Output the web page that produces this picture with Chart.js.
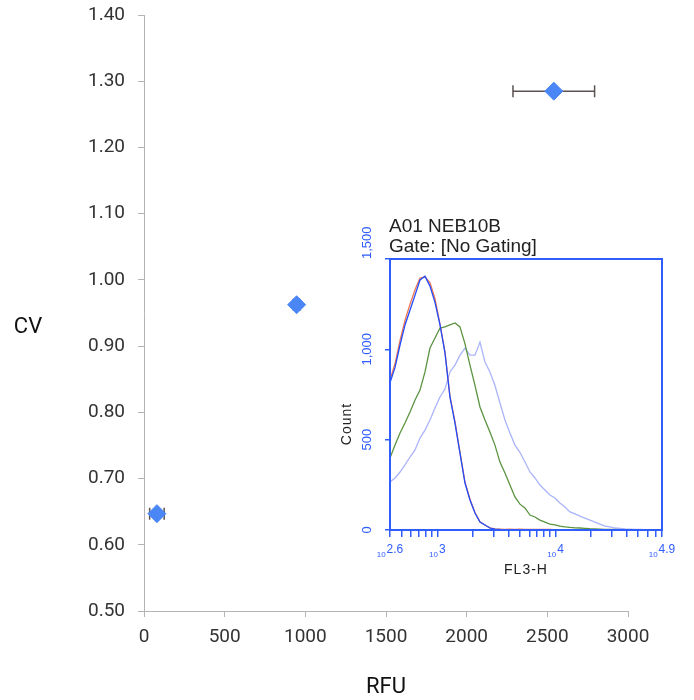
<!DOCTYPE html>
<html><head><meta charset="utf-8">
<script src="https://cdn.jsdelivr.net/npm/chart.js@4.4.1/dist/chart.umd.min.js"></script>
<style>
html,body{margin:0;padding:0;background:#fff;}
#wrap{position:relative;width:694px;height:700px;}
#main{position:absolute;left:0;top:0;}
#inset{position:absolute;left:335px;top:212px;}
</style></head><body>
<div id="wrap"><canvas id="main" width="694" height="700"></canvas><canvas id="inset" width="355" height="368"></canvas></div>
<script>
// ---- Main scatter data ----
const rfu = [80, 946, 2540];
const cv = [0.647, 0.9625, 1.285];
const rfuErr = [45, 20, 253];
const xTickValues = [0, 500, 1000, 1500, 2000, 2500, 3000];
const yTickValues = [0.5, 0.6, 0.7, 0.8, 0.9, 1.0, 1.1, 1.2, 1.3, 1.4];
const xTitle = 'RFU';
const yTitle = 'CV';

// ---- Inset histogram data (FL3-H channel vs count) ----
const fl3Channels = [398,439,484,533,588,648,714,787,867,956,1054,1161,1280,1411,1555,1714,1889,2082,2295,2529,2787,3072,3386,3733,4114,4535,4998,5510,6073,6693,7378,8132,8963,9879,10889,12002,13229,14581,16072,17714,19525,21521,23721,26146,28818,31764,35011,38590,42535,46883,51675,56958,62780,69198,76271];
const countBlue = [815,900,1024,1135,1218,1300,1384,1405,1350,1260,1135,980,735,592,426,260,166,94,44,28,11,5,3,2,2,1,1,1,1,0,0,0,0,0,0,0,0,0,0,0,0,0,0,0,0,0,0,0,0,0,0,0,0,0,0];
const countRed = [830,920,1050,1160,1250,1330,1395,1400,1370,1280,1140,985,740,600,430,265,170,97,46,28,12,6,5,4,5,4,5,4,4,3,4,3,3,2,1,0,0,0,0,0,0,0,0,0,0,0,0,0,0,0,0,0,0,0,0];
const countGreen = [398,470,537,592,653,720,775,875,1007,1063,1118,1124,1135,1146,1124,1030,913,800,681,609,542,470,376,315,249,183,143,122,83,72,55,44,33,28,22,17,14,12,11,9,7,6,5,4,3,3,2,1,1,0,0,0,0,0,0];
const countLavender = [266,288,321,360,404,443,509,553,609,675,736,780,875,913,968,1007,968,968,1040,930,875,800,703,609,537,470,430,376,321,288,249,221,194,177,149,127,100,89,77,66,55,44,33,22,17,11,9,6,5,4,3,2,1,1,0];
const insetXTickValues = [398.107,500,600,700,800,900,1000,2000,3000,4000,5000,6000,7000,8000,9000,10000,20000,30000,40000,50000,60000,70000,79432.8];
const insetXLabelValues = [398.107, 1000, 10000, 79432.8];
const insetXLabelExps = ['2.6', '3', '4', '4.9'];
const insetYTickValues = [0, 500, 1000, 1500];
const insetYLabels = ['0', '500', '1,000', '1,500'];
const insetTitle1 = 'A01 NEB10B';
const insetTitle2 = 'Gate: [No Gating]';
const insetXTitle = 'FL3-H';
const insetYTitle = 'Count';

const AXIS = '#b4b4b4';
const BLUEAX = '#2f5dff';

const errorBars = {
  id: 'errorBars',
  beforeDatasetsDraw(chart) {
    const {ctx, scales: {x, y}} = chart;
    ctx.save();
    ctx.strokeStyle = '#5b5252';
    ctx.lineWidth = 1.5;
    rfu.forEach((v, i) => {
      const py = y.getPixelForValue(cv[i]);
      const x0 = x.getPixelForValue(v - rfuErr[i]);
      const x1 = x.getPixelForValue(v + rfuErr[i]);
      ctx.beginPath();
      ctx.moveTo(x0, py); ctx.lineTo(x1, py);
      ctx.moveTo(x0, py - 6); ctx.lineTo(x0, py + 6);
      ctx.moveTo(x1, py - 6); ctx.lineTo(x1, py + 6);
      ctx.stroke();
    });
    ctx.restore();
  }
};

const mainTitles = {
  id: 'mainTitles',
  afterDraw(chart) {
    const {ctx, chartArea: ca} = chart;
    ctx.save();
    ctx.fillStyle = '#111';
    ctx.font = '22px Roboto';
    ctx.textAlign = 'center';
    ctx.textBaseline = 'middle';
    ctx.fillText(yTitle, 28, (ca.top + ca.bottom) / 2 + 14);
    ctx.fillText(xTitle, (ca.left + ca.right) / 2, 687);
    ctx.restore();
  }
};

new Chart(document.getElementById('main'), {
  type: 'scatter',
  data: {datasets: [{
    data: rfu.map((x, i) => ({x, y: cv[i]})),
    backgroundColor: '#4a86f5', borderColor: '#4a86f5', borderWidth: 1,
    pointStyle: 'rectRot', pointRadius: 9, pointHoverRadius: 9
  }]},
  options: {
    responsive: false, animation: false, events: [],
    layout: {padding: {left: 0, right: 66, top: 15, bottom: 0}},
    plugins: {legend: {display: false}, tooltip: {enabled: false}},
    scales: {
      x: {
        type: 'linear', min: 0, max: 3000,
        afterBuildTicks: s => { s.ticks = xTickValues.map(v => ({value: v})); },
        afterFit: s => { s.height = 89; },
        grid: {display: true, drawOnChartArea: false, drawTicks: true, tickLength: 6, color: AXIS, lineWidth: 1},
        border: {display: true, color: AXIS, width: 1},
        ticks: {color: '#333', font: {family: 'Roboto', size: 19}, padding: 9, maxRotation: 0, autoSkip: false, callback: v => String(v)}
      },
      y: {
        type: 'linear', min: 0.5, max: 1.4,
        afterBuildTicks: s => { s.ticks = yTickValues.map(v => ({value: v})); },
        afterFit: s => { s.width = 144; s.paddingTop = 0; s.paddingBottom = 0; },
        grid: {display: true, drawOnChartArea: false, drawTicks: true, tickLength: 6, color: AXIS, lineWidth: 1},
        border: {display: true, color: AXIS, width: 1},
        ticks: {color: '#333', font: {family: 'Roboto', size: 19}, padding: 13, autoSkip: false, callback: v => Number(v).toFixed(2)}
      }
    }
  },
  plugins: [errorBars, mainTitles]
});

const insetDecor = {
  id: 'insetDecor',
  afterDraw(chart) {
    const {ctx, chartArea: ca, scales: {x, y}} = chart;
    ctx.save();
    // frame
    ctx.strokeStyle = BLUEAX; ctx.lineWidth = 2;
    ctx.strokeRect(ca.left, ca.top, ca.right - ca.left, ca.bottom - ca.top);
    // titles
    ctx.fillStyle = '#222';
    ctx.font = '19px "Liberation Sans", Arial, sans-serif';
    ctx.textAlign = 'left'; ctx.textBaseline = 'alphabetic';
    ctx.fillText(insetTitle1, ca.left - 1, 20);
    ctx.fillText(insetTitle2, ca.left - 1, 40);
    // y labels (rotated)
    ctx.fillStyle = BLUEAX;
    ctx.font = '13px "Liberation Sans", Arial, sans-serif';
    insetYTickValues.forEach((v, i) => {
      const py = y.getPixelForValue(v);
      ctx.save();
      ctx.translate(32, py);
      ctx.rotate(-Math.PI / 2);
      ctx.textBaseline = 'middle';
      ctx.textAlign = (i === insetYTickValues.length - 1) ? 'left' : 'center';
      ctx.fillText(insetYLabels[i], 0, 0);
      ctx.restore();
    });
    // y title
    ctx.save();
    ctx.fillStyle = '#222';
    ctx.font = '14px "Liberation Sans", Arial, sans-serif';
    try { ctx.letterSpacing = '1px'; } catch (e) {}
    ctx.translate(12, ca.bottom - 106);
    ctx.rotate(-Math.PI / 2);
    ctx.textAlign = 'center'; ctx.textBaseline = 'middle';
    ctx.fillText(insetYTitle, 0, 0);
    ctx.restore();
    // x labels: small "10" + exponent
    insetXLabelValues.forEach((v, i) => {
      const px = x.getPixelForValue(v);
      ctx.font = '8px "Liberation Sans", Arial, sans-serif';
      const w10 = ctx.measureText('10').width;
      ctx.font = '12px "Liberation Sans", Arial, sans-serif';
      const wE = ctx.measureText(insetXLabelExps[i]).width;
      const start = px - (w10 + 1 + wE) / 2;
      ctx.fillStyle = BLUEAX;
      ctx.textAlign = 'left'; ctx.textBaseline = 'alphabetic';
      ctx.font = '8px "Liberation Sans", Arial, sans-serif';
      ctx.fillText('10', start, ca.bottom + 27);
      ctx.font = '12px "Liberation Sans", Arial, sans-serif';
      ctx.fillText(insetXLabelExps[i], start + w10 + 1, ca.bottom + 23);
    });
    // x title
    ctx.save();
    ctx.fillStyle = '#222';
    ctx.font = '14px "Liberation Sans", Arial, sans-serif';
    try { ctx.letterSpacing = '1px'; } catch (e) {}
    ctx.textAlign = 'center'; ctx.textBaseline = 'alphabetic';
    ctx.fillText(insetXTitle, (ca.left + ca.right) / 2, ca.bottom + 44);
    ctx.restore();
    ctx.restore();
  }
};

const mk = (arr, color) => ({
  data: fl3Channels.map((x, i) => ({x, y: arr[i]})),
  borderColor: color, backgroundColor: color, borderWidth: 1.3,
  pointRadius: 0, tension: 0, fill: false
});

new Chart(document.getElementById('inset'), {
  type: 'line',
  data: {datasets: [
    mk(countBlue, '#1f4cff'),
    mk(countRed, '#f2754e'),
    mk(countGreen, '#5b9440'),
    mk(countLavender, '#aab4fa')
  ]},
  options: {
    responsive: false, animation: false, events: [],
    layout: {padding: {left: 0, right: 28, top: 47, bottom: 0}},
    plugins: {legend: {display: false}, tooltip: {enabled: false}},
    scales: {
      x: {
        type: 'logarithmic', min: 398.107, max: 79432.8,
        afterBuildTicks: s => { s.ticks = insetXTickValues.map(v => ({value: v})); },
        afterFit: s => { s.height = 50; },
        ticks: {display: false},
        grid: {display: true, drawOnChartArea: false, drawTicks: true, tickLength: 7, color: BLUEAX, lineWidth: 1.5},
        border: {display: true, color: BLUEAX, width: 2}
      },
      y: {
        type: 'linear', min: 0, max: 1500,
        afterBuildTicks: s => { s.ticks = insetYTickValues.map(v => ({value: v})); },
        afterFit: s => { s.width = 55; },
        ticks: {display: false},
        grid: {display: true, drawOnChartArea: false, drawTicks: true, tickLength: 5, color: BLUEAX, lineWidth: 1.5},
        border: {display: true, color: BLUEAX, width: 2}
      }
    }
  },
  plugins: [insetDecor]
});
</script>
</body></html>
